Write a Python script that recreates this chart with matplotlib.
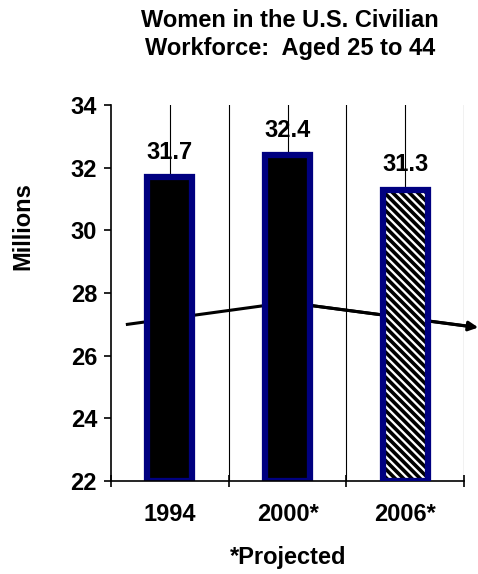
import matplotlib.pyplot as plt
import numpy as np

plt.rcParams['font.family'] = ['Liberation Sans', 'DejaVu Sans']
plt.rcParams['font.weight'] = 'bold'
plt.rcParams['hatch.linewidth'] = 2.6

# data
years = ['1994', '2000*', '2006*']
women = [31.7, 32.4, 31.3]
projected = [False, False, True]
trend_x = [-0.36, 1.0, 2.62]
trend_y = [27.0, 27.7, 26.9]
y_ticks = [22, 24, 26, 28, 30, 32, 34]

navy = '#000080'

fig = plt.figure(figsize=(4.78, 5.74), dpi=100)
ax = fig.add_axes([0.232, 0.162, 0.739, 0.655])

x = np.arange(len(years))

# vertical grid lines at category centres and boundaries
for gx in np.arange(0, len(years), 0.5):
    ax.axvline(gx, color='black', lw=0.8, zorder=0)

# trend arrow, behind the bars
ax.plot(trend_x[:-1] + [trend_x[-1] - 0.05], trend_y[:-1] + [trend_y[-1] + 0.02],
        color='black', lw=2.2, zorder=1, clip_on=False)
ax.annotate('', xy=(trend_x[-1], trend_y[-1]), xytext=(trend_x[-2], trend_y[-2]),
            arrowprops=dict(arrowstyle='-|>', color='black', lw=2.2,
                            mutation_scale=14, shrinkA=0, shrinkB=0),
            annotation_clip=False, zorder=1)

w = 0.38
for xi, v, proj in zip(x, women, projected):
    if proj:
        ax.bar(xi, v - 22, bottom=22, width=w, color='white', edgecolor='black',
               hatch='\\\\\\\\', lw=0, zorder=2)
        ax.bar(xi, v - 22, bottom=22, width=w, facecolor='none', edgecolor=navy,
               lw=4.5, zorder=3)
    else:
        ax.bar(xi, v - 22, bottom=22, width=w, color='black', edgecolor=navy,
               lw=4.5, zorder=2)
    ax.text(xi, v + 0.8, f'{v:.1f}', ha='center', va='center',
            fontsize=17, fontweight='bold', zorder=4)

ax.set_xlim(-0.5, 2.5)
ax.set_ylim(22, 34)
ax.set_yticks(y_ticks)
ax.set_yticklabels([str(t) for t in y_ticks], fontsize=17, fontweight='bold')
ax.set_xticks(x)
ax.set_xticklabels(years, fontsize=17, fontweight='bold')
ax.tick_params(axis='x', length=0, pad=16)
ax.set_xticks(np.arange(-0.5, 2.6, 1.0), minor=True)
ax.tick_params(axis='x', which='minor', direction='inout', length=9, width=1.2)
ax.tick_params(axis='y', direction='out', length=5, width=1.2, pad=5)

for s in ['top', 'right']:
    ax.spines[s].set_visible(False)
ax.spines['left'].set_linewidth(1.2)
ax.spines['bottom'].set_linewidth(1.2)

ax.set_ylabel('Millions', fontsize=17, fontweight='bold')
ax.yaxis.set_label_coords(-0.218, 0.678)

fig.text(0.602, 0.028, '*Projected', ha='center', va='center',
         fontsize=17, fontweight='bold')
fig.text(0.607, 0.965, 'Women in the U.S. Civilian', ha='center', va='center',
         fontsize=17, fontweight='bold')
fig.text(0.607, 0.916, 'Workforce:  Aged 25 to 44', ha='center', va='center',
         fontsize=17, fontweight='bold')

fig.savefig('out.png', dpi=100)
